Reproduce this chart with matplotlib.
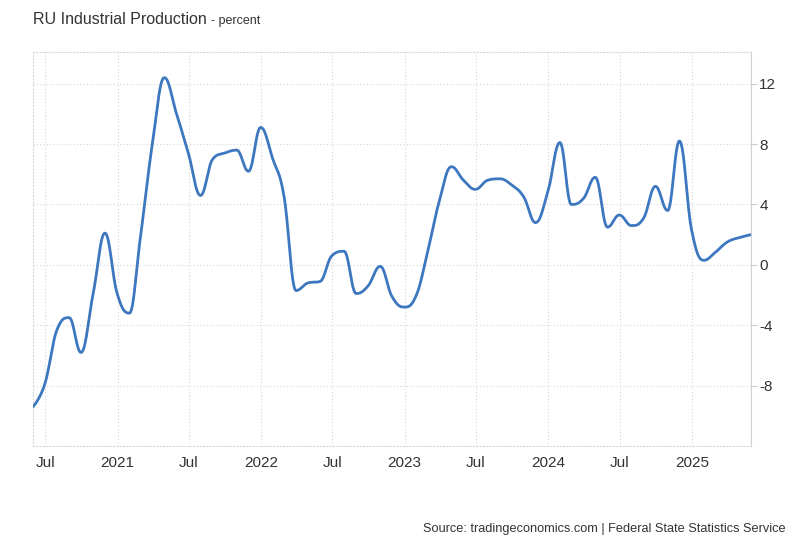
import matplotlib
matplotlib.use("Agg")
import matplotlib.pyplot as plt
import matplotlib.dates as mdates
import numpy as np
import pandas as pd

plt.rcParams['font.family'] = ['Liberation Sans', 'DejaVu Sans']
plt.rcParams['axes.unicode_minus'] = False

# monthly readings, May 2020 .. May 2025 (year-on-year, percent)
months = pd.date_range("2020-05-31", "2025-05-31", freq="ME")
values = [
    -9.4, -7.9, -4.3, -3.5, -5.8, -1.9, 2.1, -1.9,           # 2020 May-Dec
    -3.2, 1.8, 8.1, 12.4, 10.0, 7.4, 4.6, 7.0, 7.4, 7.6, 6.2, 9.1,  # 2021
    7.0, 4.6, -1.7, -1.2, -1.1, 0.6, 0.9, -1.9, -1.4, -0.1, -2.1, -2.8,  # 2022
    -2.0, 0.8, 4.3, 6.5, 5.6, 5.0, 5.6, 5.7, 5.3, 4.5, 2.8, 4.8,  # 2023
    8.1, 4.0, 4.4, 5.8, 2.5, 3.3, 2.6, 3.1, 5.2, 3.6, 8.2, 2.3,  # 2024
    0.3, 0.8, 1.5, 1.8, 2.0,                                  # 2025 Jan-May
]
tick_dates = pd.to_datetime(["2020-07-01", "2021-01-01", "2021-07-01", "2022-01-01",
                             "2022-07-01", "2023-01-01", "2023-07-01", "2024-01-01",
                             "2024-07-01", "2025-01-01"])
tick_labels = ["Jul", "2021", "Jul", "2022", "Jul", "2023", "Jul", "2024", "Jul", "2025"]
y_ticks = [-8, -4, 0, 4, 8, 12]


def spline(xs, ys, n=30):
    # smooth curve through the points, Highcharts style control points
    sm, den = 1.5, 2.5
    k = len(xs)
    lc = [(xs[i], ys[i]) for i in range(k)]
    rc = [(xs[i], ys[i]) for i in range(k)]
    for i in range(1, k - 1):
        x, y = xs[i], ys[i]
        lx = (sm * x + xs[i - 1]) / den
        ly = (sm * y + ys[i - 1]) / den
        rx = (sm * x + xs[i + 1]) / den
        ry = (sm * y + ys[i + 1]) / den
        corr = (ry - ly) * (rx - x) / (rx - lx) + y - ry
        ly += corr
        ry += corr
        if ly > ys[i - 1] and ly > y:
            ly = max(ys[i - 1], y); ry = 2 * y - ly
        elif ly < ys[i - 1] and ly < y:
            ly = min(ys[i - 1], y); ry = 2 * y - ly
        if ry > ys[i + 1] and ry > y:
            ry = max(ys[i + 1], y); ly = 2 * y - ry
        elif ry < ys[i + 1] and ry < y:
            ry = min(ys[i + 1], y); ly = 2 * y - ry
        lc[i] = (lx, ly)
        rc[i] = (rx, ry)
    t = np.linspace(0, 1, n)[:, None]
    out = []
    for i in range(1, k):
        p0 = np.array([xs[i - 1], ys[i - 1]])
        p1 = np.array(rc[i - 1])
        p2 = np.array(lc[i])
        p3 = np.array([xs[i], ys[i]])
        seg = ((1 - t) ** 3) * p0 + 3 * ((1 - t) ** 2) * t * p1 + 3 * (1 - t) * t ** 2 * p2 + t ** 3 * p3
        out.append(seg if i == 1 else seg[1:])
    out = np.vstack(out)
    return out[:, 0], out[:, 1]


fig = plt.figure(figsize=(8, 5.46), dpi=100)
ax = fig.add_axes([33 / 800, 1 - 446 / 546, 718 / 800, 394 / 546])

xnum = mdates.date2num(months)
sx, sy = spline(list(xnum), values)
ax.plot(sx, sy, color='#3d77bf', lw=2.0, solid_capstyle='round', zorder=3)

ax.set_xlim(xnum[0], xnum[-1])
ax.set_ylim(-12.0, 14.1)

ax.set_xticks(mdates.date2num(tick_dates))
ax.set_xticklabels(tick_labels)
ax.set_yticks(y_ticks)
ax.yaxis.tick_right()
ax.tick_params(axis='x', length=0, pad=7, labelsize=11, labelcolor='#333333')
ax.tick_params(axis='y', length=4, width=0.8, color='#cccccc', pad=2, labelsize=11, labelcolor='#333333')

ax.grid(True, color='#d6d6d6', linestyle=(0, (1, 2)), linewidth=0.8)
for side in ['left', 'top', 'bottom']:
    ax.spines[side].set_color('#d6d6d6')
    ax.spines[side].set_linestyle((0, (1, 2)))
    ax.spines[side].set_linewidth(0.8)
ax.spines['right'].set_color('#d0d0d0')
ax.spines['right'].set_linewidth(0.8)

fig.text(33 / 800, 1 - 20 / 546, "RU Industrial Production", fontsize=11.5, color='#333333', va='center')
fig.text(211 / 800, 1 - 21 / 546, "- percent", fontsize=9, color='#333333', va='center')
fig.text(786 / 800, 1 - 529 / 546, "Source: tradingeconomics.com | Federal State Statistics Service",
         fontsize=9.2, color='#333333', ha='right', va='center')

fig.savefig("out.png", dpi=100)
